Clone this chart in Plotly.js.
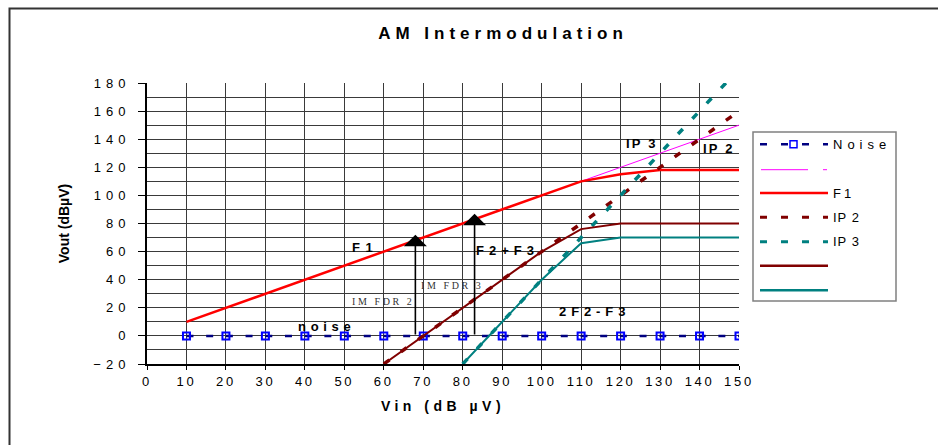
<!DOCTYPE html>
<html><head><meta charset="utf-8">
<script src="https://cdn.plot.ly/plotly-3.0.1.min.js"></script>
<style>
html,body{margin:0;padding:0;background:#fff;}
#chart{width:938px;height:445px;}
.gtitle{letter-spacing:5px;}
.xtick text{letter-spacing:2.7px;}
.ytick text{letter-spacing:5px;}
.xtitle{letter-spacing:4.5px;}
</style></head><body><div id="chart"></div>
<script>
// ---- data ----
const noiseX = [10,20,30,40,50,60,70,80,90,100,110,120,130,140,150];
const noiseY = [0,0,0,0,0,0,0,0,0,0,0,0,0,0,0];
const refX = [110,150];
const refY = [110,150];
const f1X = [10,20,30,40,50,60,70,80,90,100,110,120,130,140,150];
const f1Y = [10,20,30,40,50,60,70,80,90,100,110,115,118,118,118];
const ip2X = [60,70,80,90,100,110,120,130,140,150];
const ip2Y = [-20,0,20,40,60,80,100,120,140,160];
const ip3X = [80,90,100,110,120,130,140,150];
const ip3Y = [-20,10,40,70,100,130,160,190];
const sumX = [60,70,80,90,100,110,120,130,140,150];
const sumY = [-20,0,20,40,60,76,80,80,80,80];
const im3X = [80,90,100,110,120,130,140,150];
const im3Y = [-20,10,40,66,70,70,70,70];
const seriesNames = ['Noise','','F1','IP 2','IP 3','',''];
const arrowX = [68,83];
const arrowTop = [72,87];
const arrowBase = [0,0];

// ---- styles ----
const FONT = 'Liberation Sans, Arial, sans-serif';
const NAVY='#000080', BLUE='#0000FF', MAG='#FF00FF', RED='#FF0000', DRED='#800000', TEAL='#008080';

const traces = [
  {x:noiseX,y:noiseY,mode:'lines+markers',line:{color:NAVY,width:2.5,dash:'7px,12.7px'},
   marker:{symbol:'square-open',size:7,color:BLUE,line:{width:2,color:BLUE}}},
  {x:refX,y:refY,mode:'lines',line:{color:MAG,width:1}},
  {x:f1X,y:f1Y,mode:'lines',line:{color:RED,width:2.5}},
  {x:ip2X,y:ip2Y,mode:'lines',line:{color:DRED,width:3.5,dash:'7px,14px'}},
  {x:ip3X,y:ip3Y,mode:'lines',line:{color:TEAL,width:3.5,dash:'7px,14px'}},
  {x:sumX,y:sumY,mode:'lines',line:{color:DRED,width:2}},
  {x:im3X,y:im3Y,mode:'lines',line:{color:TEAL,width:2}}
].map((t,i)=>Object.assign(t,{name:seriesNames[i],showlegend:false,hoverinfo:'skip'}));

// plot area geometry
const M = {l:147,r:199,t:83,b:81};
const W=938,H=445;
const PW=W-M.l-M.r, PH=H-M.t-M.b;
const px=v=>(v-M.l)/PW;
const py=v=>(H-M.b-v)/PH;

const shapes = [];
const annotations = [];

// outer chart border
shapes.push({type:'rect',xref:'paper',yref:'paper',x0:px(9.5),x1:px(1200),y0:py(700),y1:py(8.5),
  line:{color:'#333',width:2},fillcolor:'rgba(0,0,0,0)',layer:'above'});

// arrows
arrowX.forEach((x,i)=>{
  annotations.push({x:x,y:arrowTop[i],ax:x,ay:arrowBase[i],axref:'x',ayref:'y',xref:'x',yref:'y',
    text:'',showarrow:true,arrowhead:1,arrowsize:2.4,arrowwidth:1.6,arrowcolor:'#000'});
});

// in-plot labels
const sp=(t,s)=>`<span style="letter-spacing:${s}px">${t}</span>`;
const bold={family:FONT,size:13,color:'#000',weight:'bold'};
const labels = [
  {t:'F1',x:55.2,y:62.6,s:5.5,f:bold},
  {t:'noise',x:45.4,y:7,s:4.7,f:bold},
  {t:'F2+F3',x:91.3,y:61.1,s:5,f:bold},
  {t:'2F2-F3',x:113.5,y:17.2,s:4.9,f:bold},
  {t:'IP 3',x:125.5,y:137,s:2.2,f:bold},
  {t:'IP 2',x:145,y:133.5,s:2.2,f:bold},
  {t:'IM FDR 2',x:59.7,y:24.3,s:2.6,f:{family:'Liberation Serif, Times New Roman, serif',size:10,color:'#333'}},
  {t:'IM FDR 3',x:77.2,y:35.7,s:2.6,f:{family:'Liberation Serif, Times New Roman, serif',size:10,color:'#333'}}
];
labels.forEach(l=>annotations.push({x:l.x,y:l.y,xref:'x',yref:'y',text:sp(l.t,l.s),showarrow:false,
  font:l.f,xanchor:'center',yanchor:'middle'}));

// legend (drawn manually to match long line samples)
shapes.push({type:'rect',xref:'paper',yref:'paper',x0:px(753),x1:px(896),y0:py(301),y1:py(132),
  line:{color:'#808080',width:1.5},fillcolor:'#fff',layer:'above'});
const legY=[144.3,169.7,193,217.3,241.7,265.7,290.3];
const legStyle=[
  {c:NAVY,w:2.5,d:'7px,14px',marker:true,s:5},
  {c:MAG,w:1,d:'solid',split:true,s:0},
  {c:RED,w:2.5,d:'solid',s:3},
  {c:DRED,w:3,d:'7px,14px',s:1},
  {c:TEAL,w:3,d:'7px,14px',s:1},
  {c:DRED,w:2.5,d:'solid',s:0},
  {c:TEAL,w:2.5,d:'solid',s:0}
];
legStyle.forEach((s,i)=>{
  const y=py(legY[i]);
  if(s.split){
    shapes.push({type:'line',xref:'paper',yref:'paper',x0:px(761),x1:px(808),y0:y,y1:y,line:{color:s.c,width:s.w},layer:'above'});
    shapes.push({type:'line',xref:'paper',yref:'paper',x0:px(823),x1:px(827),y0:y,y1:y,line:{color:s.c,width:s.w},layer:'above'});
  } else {
    shapes.push({type:'line',xref:'paper',yref:'paper',x0:px(760),x1:px(828),y0:y,y1:y,line:{color:s.c,width:s.w,dash:s.d},layer:'above'});
  }
  if(s.marker){
    shapes.push({type:'rect',xref:'paper',yref:'paper',x0:px(790),x1:px(797),y0:py(legY[i]+3.5),y1:py(legY[i]-3.5),
      line:{color:BLUE,width:1.5},fillcolor:'#fff',layer:'above'});
  }
  if(seriesNames[i]){
    annotations.push({xref:'paper',yref:'paper',x:px(831),y:y,xanchor:'left',yanchor:'middle',showarrow:false,
      text:sp(seriesNames[i],s.s),font:{family:FONT,size:13,color:'#000'}});
  }
});

const gridC='#3a3a3a';
const layout = {
  width:W,height:H,margin:M,paper_bgcolor:'#fff',plot_bgcolor:'#fff',showlegend:false,
  font:{family:FONT,color:'#000'},
  title:{text:'AM Intermodulation',font:{family:FONT,size:17,weight:'bold',color:'#000'},
    x:503/W,xref:'container',xanchor:'center',y:1-33/H,yref:'container',yanchor:'middle'},
  xaxis:{range:[0,150],dtick:10,tick0:0,showgrid:true,gridcolor:gridC,gridwidth:1,zeroline:false,
    showline:true,linecolor:'#000',linewidth:2,ticks:'outside',ticklen:4,tickwidth:1,tickcolor:'#000',
    tickfont:{family:FONT,size:13,color:'#000'},
    title:{text:'Vin (dB µV)',font:{family:FONT,size:14,weight:'bold',color:'#000'},standoff:14}},
  yaxis:{range:[-20,180],dtick:20,tick0:0,showgrid:true,gridcolor:gridC,gridwidth:1,zeroline:false,
    minor:{dtick:10,showgrid:true,gridcolor:gridC,gridwidth:1},
    showline:true,linecolor:'#000',linewidth:2,ticks:'outside',ticklen:7,tickwidth:1,tickcolor:'#000',
    ticklabelstandoff:5,tickfont:{family:FONT,size:13,color:'#000'},
    title:{text:'Vout (dBµV)',font:{family:FONT,size:14,weight:'bold',color:'#000'},standoff:20}},
  shapes:shapes,annotations:annotations
};
Plotly.newPlot('chart',traces,layout,{displayModeBar:false,staticPlot:true});
</script></body></html>
